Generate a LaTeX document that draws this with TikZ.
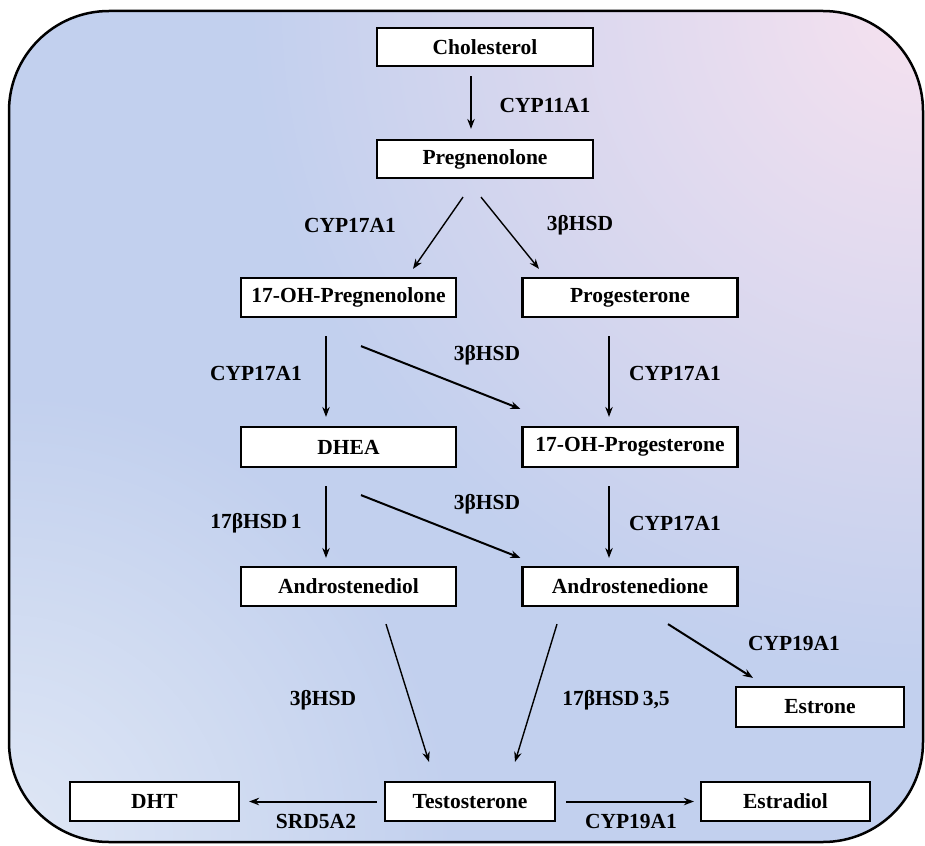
\documentclass[tikz,border=0pt]{standalone}
\usepackage{fontspec}
\setmainfont{Liberation Serif}
\usetikzlibrary{arrows.meta,fadings}
\tikzfading[name=softglow, inner color=transparent!0, outer color=transparent!100]
\definecolor{bgblue}{HTML}{C2D0EE}
\definecolor{bgpink}{HTML}{F7E2F0}
\definecolor{bglight}{HTML}{E0E8F6}
\begin{document}
\begin{tikzpicture}[x=1pt,y=-1pt,
  box/.style={draw=black, line width=2.2pt, fill=white, minimum height=39pt, inner sep=0pt, font=\fontsize{21.5}{25}\selectfont\bfseries},
  wbox/.style={box, minimum width=215pt},
  nbox/.style={box, minimum width=169pt},
  lab/.style={font=\fontsize{21.5}{25}\selectfont\bfseries, inner sep=0pt},
  arr/.style={-{Stealth[length=10pt,width=7.5pt]}, line width=1.4pt},
  darr/.style={arr, line width=2pt}]

\useasboundingbox (0,0) rectangle (925,845);
\begin{scope}
  \clip[rounded corners=100pt] (9,11) rectangle (923,842);
  \fill[bgblue] (0,0) rectangle (925,845);
  \fill[bgpink, path fading=softglow] (925,0) circle (680pt);
  \fill[bglight, path fading=softglow] (0,845) circle (460pt);
\end{scope}
\draw[line width=2.5pt, rounded corners=100pt] (9,11) rectangle (923,842);

% boxes
\node[wbox, minimum width=216pt, minimum height=38pt] (chol) at (485,47) {Cholesterol};
\node[wbox, minimum width=216pt, minimum height=38pt] (preg) at (485,159) {Pregnenolone};
\node[wbox] (ohpreg) at (348.5,297.5) {17-OH-Pregnenolone};
\node[wbox] (prog) at (630,297.5) {Progesterone};
\node[wbox, minimum height=40pt] (dhea) at (348.5,447) {DHEA};
\node[wbox, minimum height=40pt] (ohprog) at (630,447) {17-OH-Progesterone};
\node[wbox] (adiol) at (348.5,586.5) {Androstenediol};
\node[wbox] (adione) at (630,586.5) {Androstenedione};
\node[nbox, minimum width=168pt, minimum height=40pt] (estrone) at (820,707) {Estrone};
\node[nbox] (dht) at (154.5,801.5) {DHT};
\node[nbox, minimum width=170pt] (testo) at (470,801.5) {Testosterone};
\node[nbox] (estradiol) at (785.5,801.5) {Estradiol};

% connectors
\draw[arr] ([xshift=-14pt,yshift=-9pt]chol.south) -- ([xshift=-14pt,yshift=10pt]preg.north);
\draw[arr] ([xshift=-22pt,yshift=-18pt]preg.south) -- ([xshift=64.5pt,yshift=8pt]ohpreg.north);
\draw[arr] ([xshift=-4pt,yshift=-18pt]preg.south) -- ([xshift=-91pt,yshift=8pt]prog.north);
\draw[arr] ([xshift=-22.5pt,yshift=-18pt]ohpreg.south) -- ([xshift=-22.5pt,yshift=9pt]dhea.north);
\draw[darr] ([xshift=12.5pt,yshift=-28pt]ohpreg.south) -- ([xshift=-1pt,yshift=17pt]ohprog.north west);
\draw[arr] ([xshift=-21pt,yshift=-18pt]prog.south) -- ([xshift=-21pt,yshift=9pt]ohprog.north);
\draw[arr] ([xshift=-22.5pt,yshift=-18pt]dhea.south) -- ([xshift=-22.5pt,yshift=8pt]adiol.north);
\draw[darr] ([xshift=12.5pt,yshift=-27pt]dhea.south) -- ([xshift=-1pt,yshift=8pt]adione.north west);
\draw[arr] ([xshift=-21pt,yshift=-18pt]ohprog.south) -- ([xshift=-21pt,yshift=8pt]adione.north);
\draw[arr] ([xshift=37.5pt,yshift=-17pt]adiol.south) -- ([xshift=-41pt,yshift=19pt]testo.north);
\draw[arr] ([xshift=-73pt,yshift=-17pt]adione.south) -- ([xshift=45pt,yshift=19pt]testo.north);
\draw[darr] ([xshift=38pt,yshift=-17pt]adione.south) -- ([xshift=-67pt,yshift=8pt]estrone.north);
\draw[darr] ([xshift=-7pt]testo.west) -- ([xshift=9pt]dht.east);
\draw[darr] ([xshift=10pt]testo.east) -- ([xshift=-6pt]estradiol.west);

% labels
\node[lab] (l1) at (545,105) {CYP11A1};
\node[lab] (l2) at (350,225) {CYP17A1};
\node[lab] (l3) at (580,225) {3βHSD};
\node[lab] (l4) at (487,355) {3βHSD};
\node[lab] (l5) at (256,373) {CYP17A1};
\node[lab] (l6) at (675,373) {CYP17A1};
\node[lab] (l7) at (487,504) {3βHSD};
\node[lab] (l8) at (256,523) {17βHSD\,1};
\node[lab] (l9) at (675,523) {CYP17A1};
\node[lab] (l10) at (794,643) {CYP19A1};
\node[lab] (l11) at (323,700) {3βHSD};
\node[lab] (l12) at (616,700) {17βHSD\,3,5};
\node[lab] (l13) at (316,821) {SRD5A2};
\node[lab] (l14) at (631,821) {CYP19A1};
\end{tikzpicture}
\end{document}
